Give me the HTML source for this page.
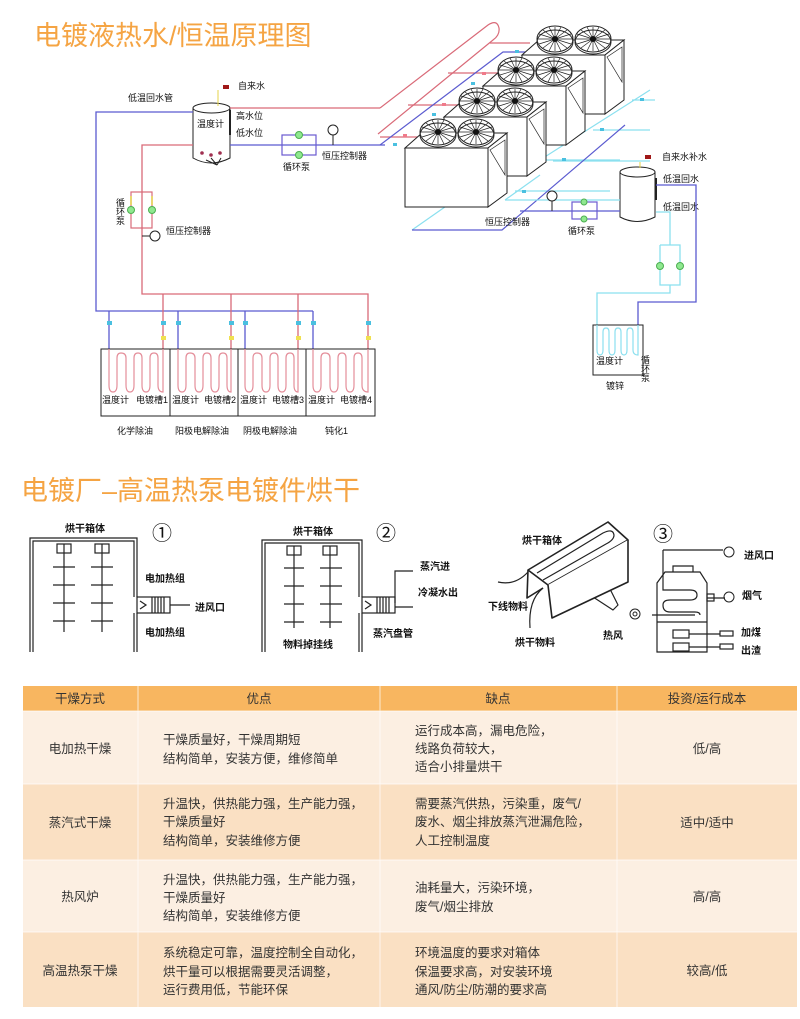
<!DOCTYPE html>
<html><head><meta charset="utf-8">
<style>
body{margin:0;background:#fff;}
svg{display:block;font-family:"Liberation Sans","Noto Sans CJK SC",sans-serif;}
.t{font-size:9px;fill:#111;}
.s{font-size:10px;fill:#111;font-weight:bold;}
.tb{font-size:12.5px;fill:#333;}
</style></head><body>
<svg width="800" height="1019" viewBox="0 0 800 1019">
<defs>
<g id="fan">
<ellipse cx="0" cy="0" rx="18" ry="13" fill="#fff" stroke="#222"/>
<ellipse cx="0" cy="3" rx="18" ry="12" fill="none" stroke="#222"/>
<g stroke="#222" stroke-width="0.7">
<line x1="-17" y1="0" x2="17" y2="0"/><line x1="0" y1="-12" x2="0" y2="12"/>
<line x1="-12" y1="-9" x2="12" y2="9"/><line x1="-12" y1="9" x2="12" y2="-9"/>
<line x1="-16" y1="-5" x2="16" y2="5"/><line x1="-16" y1="5" x2="16" y2="-5"/>
<line x1="-6" y1="-12" x2="6" y2="12"/><line x1="-6" y1="12" x2="6" y2="-12"/>
</g>
<circle r="3" fill="#111"/>
</g>
<g id="unit">
<path d="M405 148 L422 133 L507 133 L488 148 Z" fill="#fff" stroke="#222"/>
<path d="M488 148 L507 133 L507 193 L488 207 Z" fill="#fff" stroke="#222"/>
<path d="M490 150 L505 140 L505 175 Z" fill="none" stroke="#222" stroke-width="0.7"/>
<rect x="405" y="148" width="83" height="59" fill="#fff" stroke="#222"/>
<use href="#fan" x="438" y="132"/><use href="#fan" x="476" y="132"/>
</g>
</defs>
<!-- Title 1 -->
<text x="34" y="45" font-size="27" fill="#f5a443">电镀液热水/恒温原理图</text>

<!-- Left tank -->
<g stroke="#222" stroke-width="1" fill="#fff">
<path d="M193 108 L193 158 Q211 168 230 158 L230 108"/>
<ellipse cx="211.5" cy="108" rx="18.5" ry="5"/>
</g>
<line x1="230" y1="110" x2="230" y2="135" stroke="#222" stroke-width="2"/>
<path d="M206 160 L217 165 M211 158 L217 165 M221 158 L217 165" stroke="#222" fill="none"/>
<circle cx="202" cy="153" r="1.8" fill="#a03050"/><circle cx="211" cy="155" r="1.8" fill="#a03050"/><circle cx="220" cy="153" r="1.8" fill="#a03050"/>
<line x1="218" y1="90" x2="218" y2="106" stroke="#e6d34a"/>
<rect x="223" y="85" width="6" height="4" fill="#a01818"/>
<text x="238" y="89" class="t">自来水</text>
<text x="128" y="101" class="t">低温回水管</text>
<text x="197" y="127" class="t">温度计</text>
<text x="236" y="119" class="t">高水位</text>
<text x="236" y="136" class="t">低水位</text>

<!-- pipes left -->
<g fill="none" stroke-width="1.3">
<path d="M193 112 L96 112 L96 311 L313 311" stroke="#5b5bd0"/>
<path d="M230 108 L380 108" stroke="#d96a78"/>
<path d="M230 145 L385 145" stroke="#5b5bd0"/>
<path d="M193 145 L142 145 L142 294 L368 294 L368 349" stroke="#d96a78"/>
<path d="M163 294 L163 349 M231 294 L231 349 M298 294 L298 349" stroke="#d96a78"/>
<path d="M109 311 L109 349 M178 311 L178 349 M245 311 L245 349 M313 311 L313 349" stroke="#5b5bd0"/>
</g>
<!-- pump group top -->
<rect x="282" y="135" width="34" height="20" fill="none" stroke="#6a5bd0" stroke-width="1.2"/>
<circle cx="299" cy="135" r="3.5" fill="#8fe88f" stroke="#4caf50"/><circle cx="299" cy="155" r="3.5" fill="#8fe88f" stroke="#4caf50"/>
<circle cx="333" cy="130" r="5" fill="#fff" stroke="#222"/><line x1="333" y1="135" x2="333" y2="145" stroke="#222"/>
<text x="322" y="159" class="t">恒压控制器</text>
<text x="283" y="170" class="t">循环泵</text>
<!-- pump group vertical -->
<rect x="131" y="192" width="21" height="36" fill="none" stroke="#d96a78" stroke-width="1.2"/>
<circle cx="131" cy="210" r="3.5" fill="#8fe88f" stroke="#4caf50"/><circle cx="152" cy="210" r="3.5" fill="#8fe88f" stroke="#4caf50"/>
<line x1="131" y1="196" x2="131" y2="205" stroke="#e6d34a" stroke-width="1.5"/><line x1="152" y1="196" x2="152" y2="205" stroke="#e6d34a" stroke-width="1.5"/>
<text x="120" y="198" class="t" style="writing-mode:vertical-rl" font-size="8">循环泵</text>
<circle cx="155" cy="236" r="5" fill="#fff" stroke="#222"/><line x1="142" y1="236" x2="150" y2="236" stroke="#222"/>
<text x="166" y="234" class="t">恒压控制器</text>

<!-- plating tanks -->
<rect x="101" y="349" width="274" height="67" fill="none" stroke="#222"/>
<path d="M170 349 V416 M238 349 V416 M306 349 V416" stroke="#222"/>
<g fill="none" stroke="#e48e9a" stroke-width="1.2">
<path d="M109 349 V385 Q109 392 113 392 Q117 392 117 385 V358 Q117 353 121 353 Q126 353 126 358 V385 Q126 392 130 392 Q134 392 134 385 V358 Q134 353 138 353 Q142 353 142 358 V385 Q142 392 146 392 Q150 392 150 385 V358 Q150 353 154 353 Q158 353 158 358 V385 Q158 392 163 392 V349"/>
<path d="M178 349 V385 Q178 392 182 392 Q186 392 186 385 V358 Q186 353 190 353 Q195 353 195 358 V385 Q195 392 199 392 Q203 392 203 385 V358 Q203 353 207 353 Q211 353 211 358 V385 Q211 392 215 392 Q219 392 219 385 V358 Q219 353 223 353 Q227 353 227 358 V385 Q227 392 231 392 V349"/>
<path d="M245 349 V385 Q245 392 249 392 Q253 392 253 385 V358 Q253 353 257 353 Q262 353 262 358 V385 Q262 392 266 392 Q270 392 270 385 V358 Q270 353 274 353 Q278 353 278 358 V385 Q278 392 282 392 Q286 392 286 385 V358 Q286 353 290 353 Q294 353 294 358 V385 Q294 392 298 392 V349"/>
<path d="M313 349 V385 Q313 392 317 392 Q321 392 321 385 V358 Q321 353 325 353 Q330 353 330 358 V385 Q330 392 334 392 Q338 392 338 385 V358 Q338 353 342 353 Q346 353 346 358 V385 Q346 392 350 392 Q354 392 354 385 V358 Q354 353 358 353 Q362 353 362 358 V385 Q362 392 368 392 V349"/>
</g>
<g fill="#4ac0e0"><rect x="107" y="321" width="5" height="4"/><rect x="176" y="321" width="5" height="4"/><rect x="243" y="321" width="5" height="4"/><rect x="311" y="321" width="5" height="4"/><rect x="161" y="321" width="5" height="4"/><rect x="229" y="321" width="5" height="4"/><rect x="296" y="321" width="5" height="4"/><rect x="366" y="321" width="5" height="4"/></g>
<g fill="#f0e050"><rect x="161" y="336" width="5" height="4"/><rect x="229" y="336" width="5" height="4"/><rect x="296" y="336" width="5" height="4"/><rect x="366" y="336" width="5" height="4"/></g>
<g class="t" font-size="8.5">
<text x="102" y="403">温度计</text><text x="136" y="403">电镀槽1</text>
<text x="172" y="403">温度计</text><text x="204" y="403">电镀槽2</text>
<text x="240" y="403">温度计</text><text x="272" y="403">电镀槽3</text>
<text x="308" y="403">温度计</text><text x="340" y="403">电镀槽4</text>
<text x="117" y="434">化学除油</text><text x="175" y="434">阳极电解除油</text>
<text x="243" y="434">阴极电解除油</text><text x="325" y="434">钝化1</text>
</g>

<!-- red hairpin and diagonal pipes -->
<g fill="none" stroke-width="1.2">
<path d="M380 108 L488 25 Q497 19 499 28 Q500 35 493 40 L378 134" stroke="#d96a78"/>
<path d="M490 43 L530 43 M448 73 L500 73 M408 105 L460 105 M380 137 L420 137" stroke="#d96a78"/>
<path d="M380 145 L503 52 L530 52" stroke="#5b5bd0"/>
<path d="M412 230 L512 160 L620 160" stroke="#8be0ef"/>
<path d="M505 200 L540 175" stroke="#8be0ef"/>
<path d="M515 191 L610 191 M553 161 L650 161 M593 130 L650 130 M632 100 L655 100 M650 90 L540 160" stroke="#8be0ef"/>
<path d="M412 230 L502 230 L625 125" stroke="#5b5bd0"/>
</g>
<!-- heat pump units -->
<use href="#unit" x="117" y="-93"/>
<use href="#unit" x="78" y="-62"/>
<use href="#unit" x="39" y="-31"/>
<use href="#unit" x="0" y="0"/>
<g fill="#f07a8a"><rect x="403" y="134" width="4" height="3"/><rect x="442" y="103" width="4" height="3"/><rect x="482" y="72" width="4" height="3"/></g>
<g fill="#4ac0e0"><rect x="393" y="143" width="4" height="3"/><rect x="432" y="113" width="4" height="3"/><rect x="471" y="82" width="4" height="3"/><rect x="515" y="50" width="4" height="3"/><rect x="522" y="190" width="4" height="3"/><rect x="562" y="158" width="4" height="3"/><rect x="600" y="128" width="4" height="3"/><rect x="640" y="98" width="4" height="3"/></g>

<!-- right tank -->
<g stroke="#222" fill="#fff">
<path d="M620 172 L620 217 Q637 226 655 217 L655 172"/>
<ellipse cx="637.5" cy="172" rx="17.5" ry="5"/>
</g>
<line x1="656" y1="178" x2="656" y2="200" stroke="#222" stroke-width="2"/>
<line x1="640" y1="162" x2="640" y2="168" stroke="#e6d34a"/>
<rect x="645" y="155" width="6" height="4" fill="#a01818"/>
<text x="662" y="160" class="t">自来水补水</text>
<text x="663" y="182" class="t">低温回水</text>
<text x="663" y="210" class="t">低温回水</text>
<g fill="none" stroke-width="1.3">
<path d="M520 211 L620 211" stroke="#5b5bd0"/>
<path d="M505 200 L620 200" stroke="#8be0ef"/>
<path d="M656 185 L696 185 L696 302 L638 302 L638 325" stroke="#5b5bd0"/>
<path d="M656 212 L670 212 L670 245 M660 245 L680 245 L680 285 L660 285 L660 245 M670 285 L670 293 L597 293 L597 325" stroke="#8be0ef"/>
</g>
<rect x="572" y="202" width="25" height="17" fill="none" stroke="#6a5bd0" stroke-width="1.2"/>
<circle cx="584" cy="202" r="3" fill="#8fe88f" stroke="#4caf50"/><circle cx="584" cy="219" r="3" fill="#8fe88f" stroke="#4caf50"/>
<circle cx="660" cy="266" r="3.5" fill="#8fe88f" stroke="#4caf50"/><circle cx="680" cy="266" r="3.5" fill="#8fe88f" stroke="#4caf50"/>
<circle cx="552" cy="196" r="5" fill="#fff" stroke="#222"/><line x1="552" y1="201" x2="552" y2="211" stroke="#222"/>
<text x="568" y="234" class="t">循环泵</text>
<text x="485" y="225" class="t">恒压控制器</text>
<rect x="593" y="325" width="50" height="50" fill="none" stroke="#222"/>
<path d="M597 325 V350 Q597 355 600 355 Q603 355 603 350 V332 Q603 328 606 328 Q609 328 609 332 V350 Q609 355 612 355 Q615 355 615 350 V332 Q615 328 618 328 Q621 328 621 332 V350 Q621 355 624 355 Q627 355 627 350 V332 Q627 328 630 328 Q633 328 633 332 V350 Q633 355 638 355 V325" fill="none" stroke="#8be0ef" stroke-width="1.2"/>
<text x="596" y="364" class="t" font-size="8">温度计</text>
<text x="645" y="355" class="t" font-size="7" style="writing-mode:vertical-rl">循环泵</text>
<text x="606" y="389" class="t">镀锌</text>

<!-- Title 2 -->
<text x="21" y="500" font-size="27" fill="#f5a443">电镀厂–高温热泵电镀件烘干</text>

<!-- Drawing 1 -->
<g fill="none" stroke="#222" stroke-width="1.2">
<path d="M30 652 V538 H137 V597 M137 613 V652 M33 652 V541 H134 V597 M134 613 V652"/>
<rect x="57" y="544" width="14" height="9"/><rect x="95" y="544" width="14" height="9"/>
<path d="M64 544 V632 M102 544 V632 M53 567 H75 M53 585 H75 M53 603 H75 M53 621 H75 M91 567 H113 M91 585 H113 M91 603 H113 M91 621 H113"/>
<rect x="137" y="597" width="33" height="16"/>
<path d="M152 597 V613 M155 597 V613 M158 597 V613 M161 597 V613 M164 597 V613 M140 601 L146 605 L140 609 M170 605 H190"/>
</g>
<text x="65" y="532" class="s">烘干箱体</text>
<text x="152" y="540" font-size="20" fill="#111">①</text>
<text x="145" y="582" class="s">电加热组</text>
<text x="145" y="636" class="s">电加热组</text>
<text x="195" y="611" class="s">进风口</text>
<!-- Drawing 2 -->
<g fill="none" stroke="#222" stroke-width="1.2">
<path d="M262 652 V540 H362 V597 M362 613 V652 M265 652 V543 H359 V597 M359 613 V652"/>
<rect x="287" y="546" width="14" height="9"/><rect x="323" y="546" width="14" height="9"/>
<path d="M294 546 V628 M330 546 V628 M284 568 H304 M284 586 H304 M284 604 H304 M284 622 H304 M320 568 H342 M320 586 H342 M320 604 H342 M320 622 H342"/>
<rect x="362" y="597" width="33" height="16"/>
<path d="M377 597 V613 M380 597 V613 M383 597 V613 M386 597 V613 M389 597 V613 M365 601 L371 605 L365 609 M395 603 V571 H413 M395 607 H413"/>
</g>
<text x="293" y="535" class="s">烘干箱体</text>
<text x="376" y="540" font-size="20" fill="#111">②</text>
<text x="420" y="570" class="s">蒸汽进</text>
<text x="418" y="596" class="s">冷凝水出</text>
<text x="373" y="637" class="s">蒸汽盘管</text>
<text x="283" y="648" class="s">物料掉挂线</text>
<!-- Drawing 3 prism -->
<g fill="none" stroke="#222" stroke-width="1.6" stroke-linejoin="round">
<path d="M590 595 L608 585 L618 605 L613 610 Z" fill="#fff" stroke-width="1.2"/>
<path d="M528 570 L608 522 L628 540 L548 585 Z" fill="#fff"/>
<path d="M548 585 L552 618 L628 582 L628 540" fill="#fff"/>
<path d="M528 570 L527 598 L543 588"/>
<path d="M537 573 L603 533 Q613 528 614 535 Q614 540 606 544 L543 580" stroke-width="1.2"/>
<path d="M498 582 Q515 586 528 572" stroke-width="1.2"/>
<path d="M530 628 Q528 600 543 588" stroke-width="1.2"/>
</g>
<circle cx="635" cy="614" r="5" fill="none" stroke="#222"/><circle cx="635" cy="614" r="2" fill="none" stroke="#222"/>
<text x="522" y="544" class="s">烘干箱体</text>
<text x="488" y="610" class="s">下线物料</text>
<text x="515" y="646" class="s">烘干物料</text>
<text x="603" y="639" class="s">热风</text>
<!-- Drawing 4 tower -->
<text x="653" y="541" font-size="20" fill="#111">③</text>
<g fill="none" stroke="#222" stroke-width="1.2">
<path d="M657 652 V583 L665 572 H700 L707 583 V652 Z M673 572 V566 H693 V572 M657 622 H707"/>
<path d="M663 550 H723 M663 550 V590 H690 Q697 590 697 595 Q697 600 690 600 H670 Q663 600 663 605 Q663 612 670 612 H695 Q700 612 700 615 M652 615 H695"/>
<rect x="673" y="630" width="16" height="8"/><rect x="673" y="643" width="16" height="8"/>
<path d="M689 634 H720 M689 647 H720 M707 598 H725"/>
<rect x="720" y="631" width="13" height="5"/><rect x="720" y="644" width="13" height="5"/>
<rect x="707" y="594" width="7" height="7"/>
</g>
<circle cx="729" cy="552" r="5" fill="none" stroke="#222"/><circle cx="729" cy="597" r="5" fill="none" stroke="#222"/>
<text x="744" y="559" class="s">进风口</text>
<text x="742" y="599" class="s">烟气</text>
<text x="741" y="636" class="s">加煤</text>
<text x="741" y="654" class="s">出渣</text>

<!-- Table -->
<rect x="23" y="686" width="774" height="25" fill="#f8b660"/>
<rect x="23" y="711" width="774" height="73" fill="#fcefe2"/>
<rect x="23" y="784" width="774" height="76" fill="#fae0c3"/>
<rect x="23" y="860" width="774" height="72" fill="#fcefe2"/>
<rect x="23" y="932" width="774" height="75" fill="#fae0c3"/>
<g stroke="#fff" stroke-width="1" opacity="0.7">
<path d="M138 686 V1007 M380 686 V1007 M617 686 V1007 M23 711 H797 M23 784 H797 M23 860 H797 M23 932 H797"/>
</g>
<g class="tb">
<text x="80" y="703" text-anchor="middle">干燥方式</text>
<text x="259" y="703" text-anchor="middle">优点</text>
<text x="498" y="703" text-anchor="middle">缺点</text>
<text x="707" y="703" text-anchor="middle">投资/运行成本</text>

<text x="80" y="753" text-anchor="middle">电加热干燥</text>
<text x="163" y="744">干燥质量好，干燥周期短</text>
<text x="163" y="763">结构简单，安装方便，维修简单</text>
<text x="415" y="735">运行成本高，漏电危险，</text>
<text x="415" y="753">线路负荷较大，</text>
<text x="415" y="771">适合小排量烘干</text>
<text x="707" y="753" text-anchor="middle">低/高</text>

<text x="80" y="827" text-anchor="middle">蒸汽式干燥</text>
<text x="163" y="808">升温快，供热能力强，生产能力强，</text>
<text x="163" y="826">干燥质量好</text>
<text x="163" y="845">结构简单，安装维修方便</text>
<text x="415" y="808">需要蒸汽供热，污染重，废气/</text>
<text x="415" y="826">废水、烟尘排放蒸汽泄漏危险，</text>
<text x="415" y="845">人工控制温度</text>
<text x="707" y="827" text-anchor="middle">适中/适中</text>

<text x="80" y="901" text-anchor="middle">热风炉</text>
<text x="163" y="884">升温快，供热能力强，生产能力强，</text>
<text x="163" y="902">干燥质量好</text>
<text x="163" y="920">结构简单，安装维修方便</text>
<text x="415" y="892">油耗量大，污染环境，</text>
<text x="415" y="911">废气/烟尘排放</text>
<text x="707" y="901" text-anchor="middle">高/高</text>

<text x="80" y="975" text-anchor="middle">高温热泵干燥</text>
<text x="163" y="957">系统稳定可靠，温度控制全自动化，</text>
<text x="163" y="976">烘干量可以根据需要灵活调整，</text>
<text x="163" y="994">运行费用低，节能环保</text>
<text x="415" y="957">环境温度的要求对箱体</text>
<text x="415" y="976">保温要求高，对安装环境</text>
<text x="415" y="994">通风/防尘/防潮的要求高</text>
<text x="707" y="975" text-anchor="middle">较高/低</text>
</g>
</svg>
</body></html>
